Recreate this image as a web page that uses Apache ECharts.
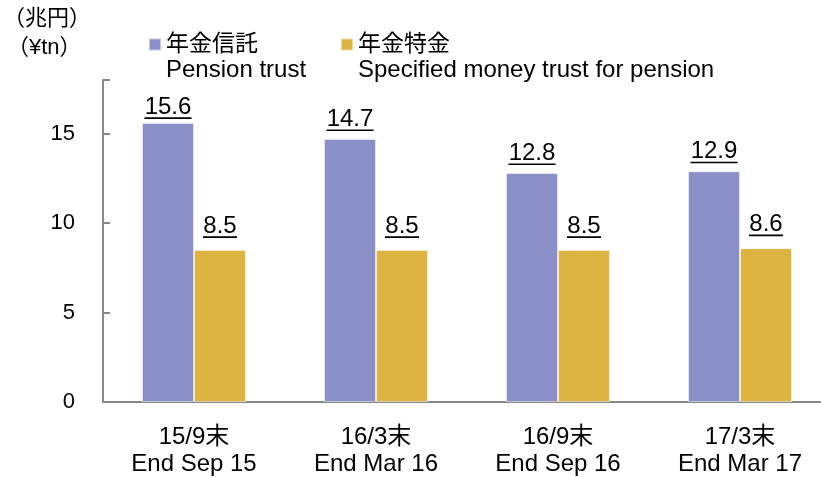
<!DOCTYPE html>
<html>
<head>
<meta charset="utf-8">
<script src="https://cdn.jsdelivr.net/npm/echarts@6/dist/echarts.min.js"></script>
<style>
  html, body { margin: 0; padding: 0; background: #fff; }
  #chart { width: 821px; height: 477px; }
</style>
</head>
<body>
<div id="chart"></div>
<script>
// Pension-related trust balances, trillion yen
const categories = ['15/9末\nEnd Sep 15', '16/3末\nEnd Mar 16', '16/9末\nEnd Sep 16', '17/3末\nEnd Mar 17'];
const pensionTrust = [15.6, 14.7, 12.8, 12.9];
const specifiedMoneyTrust = [8.5, 8.5, 8.5, 8.6];
const seriesNamesJa = ['年金信託', '年金特金'];
const seriesNamesEn = ['Pension trust', 'Specified money trust for pension'];
const yTicks = [0, 5, 10, 15];

const FONT = "'Liberation Sans', Arial, 'Noto Sans CJK JP', sans-serif";
const COLORS = ['#8b8fc8', '#deb440'];

const chart = echarts.init(document.getElementById('chart'));

// Underlined value label: the number on one line, a thin rule under it
function valueLabel(distance) {
  return {
    show: true,
    position: 'top',
    distance: distance,
    formatter: p => {
      const txt = p.value.toFixed(1);
      return '{v|' + txt + '}\n{u' + txt.length + '|}';
    },
    rich: {
      v: { fontFamily: FONT, fontSize: 24, color: '#000', lineHeight: 20, align: 'center' },
      u3: { width: 34, height: 1.6, backgroundColor: '#000', align: 'center' },
      u4: { width: 47, height: 1.6, backgroundColor: '#000', align: 'center' }
    }
  };
}

const legendText = { fontFamily: FONT, fontSize: 23, color: '#000' };

const option = {
  animation: false,
  textStyle: { fontFamily: FONT },
  grid: { left: 103, top: 80, width: 728, height: 322, outerBoundsMode: 'none' },
  legend: [
    {
      data: [seriesNamesJa[0]], left: 143, top: 28,
      itemWidth: 12, itemHeight: 12, icon: 'rect', textStyle: legendText
    },
    {
      data: [seriesNamesJa[1]], left: 335, top: 28,
      itemWidth: 12, itemHeight: 12, icon: 'rect', textStyle: legendText
    }
  ],
  graphic: [
    { type: 'text', left: 3, top: 8, style: { text: '（兆円）', font: '22px ' + FONT, fill: '#000' } },
    { type: 'text', left: 7, top: 37, style: { text: '（¥tn）', font: '22px ' + FONT, fill: '#000' } },
    { type: 'text', left: 166, top: 58, style: { text: seriesNamesEn[0], font: '24px ' + FONT, fill: '#000' } },
    { type: 'text', left: 358, top: 58, style: { text: seriesNamesEn[1], font: '24px ' + FONT, fill: '#000' } }
  ],
  xAxis: {
    type: 'category',
    data: categories,
    axisLine: { lineStyle: { color: '#888', width: 2 } },
    axisTick: { show: false },
    axisLabel: { fontFamily: FONT, fontSize: 24, color: '#000', lineHeight: 27, margin: 22 }
  },
  yAxis: {
    type: 'value',
    min: 0,
    max: 18,
    interval: 5,
    axisLine: { show: true, lineStyle: { color: '#888', width: 2 } },
    axisTick: { show: true, inside: true, length: 7, lineStyle: { color: '#888', width: 2 } },
    splitLine: { show: false },
    axisLabel: {
      fontFamily: FONT, fontSize: 22, color: '#000', margin: 28,
      formatter: v => (yTicks.indexOf(v) >= 0 ? String(v) : '')
    }
  },
  series: [
    {
      name: seriesNamesJa[0],
      type: 'bar',
      // the tallest bar's label sits closer to its bar to stay clear of the legend
      data: pensionTrust.map((v, i) => (i === 0 ? { value: v, label: { distance: 4 } } : v)),
      barWidth: 52,
      barGap: '0%',
      itemStyle: { color: COLORS[0], borderColor: 'rgba(255,255,255,0.5)', borderWidth: 1 },
      label: valueLabel(8)
    },
    {
      name: seriesNamesJa[1],
      type: 'bar',
      data: specifiedMoneyTrust,
      barWidth: 52,
      itemStyle: { color: COLORS[1], borderColor: 'rgba(255,255,255,0.5)', borderWidth: 1 },
      label: valueLabel(12)
    }
  ]
};

chart.setOption(option);
</script>
</body>
</html>
